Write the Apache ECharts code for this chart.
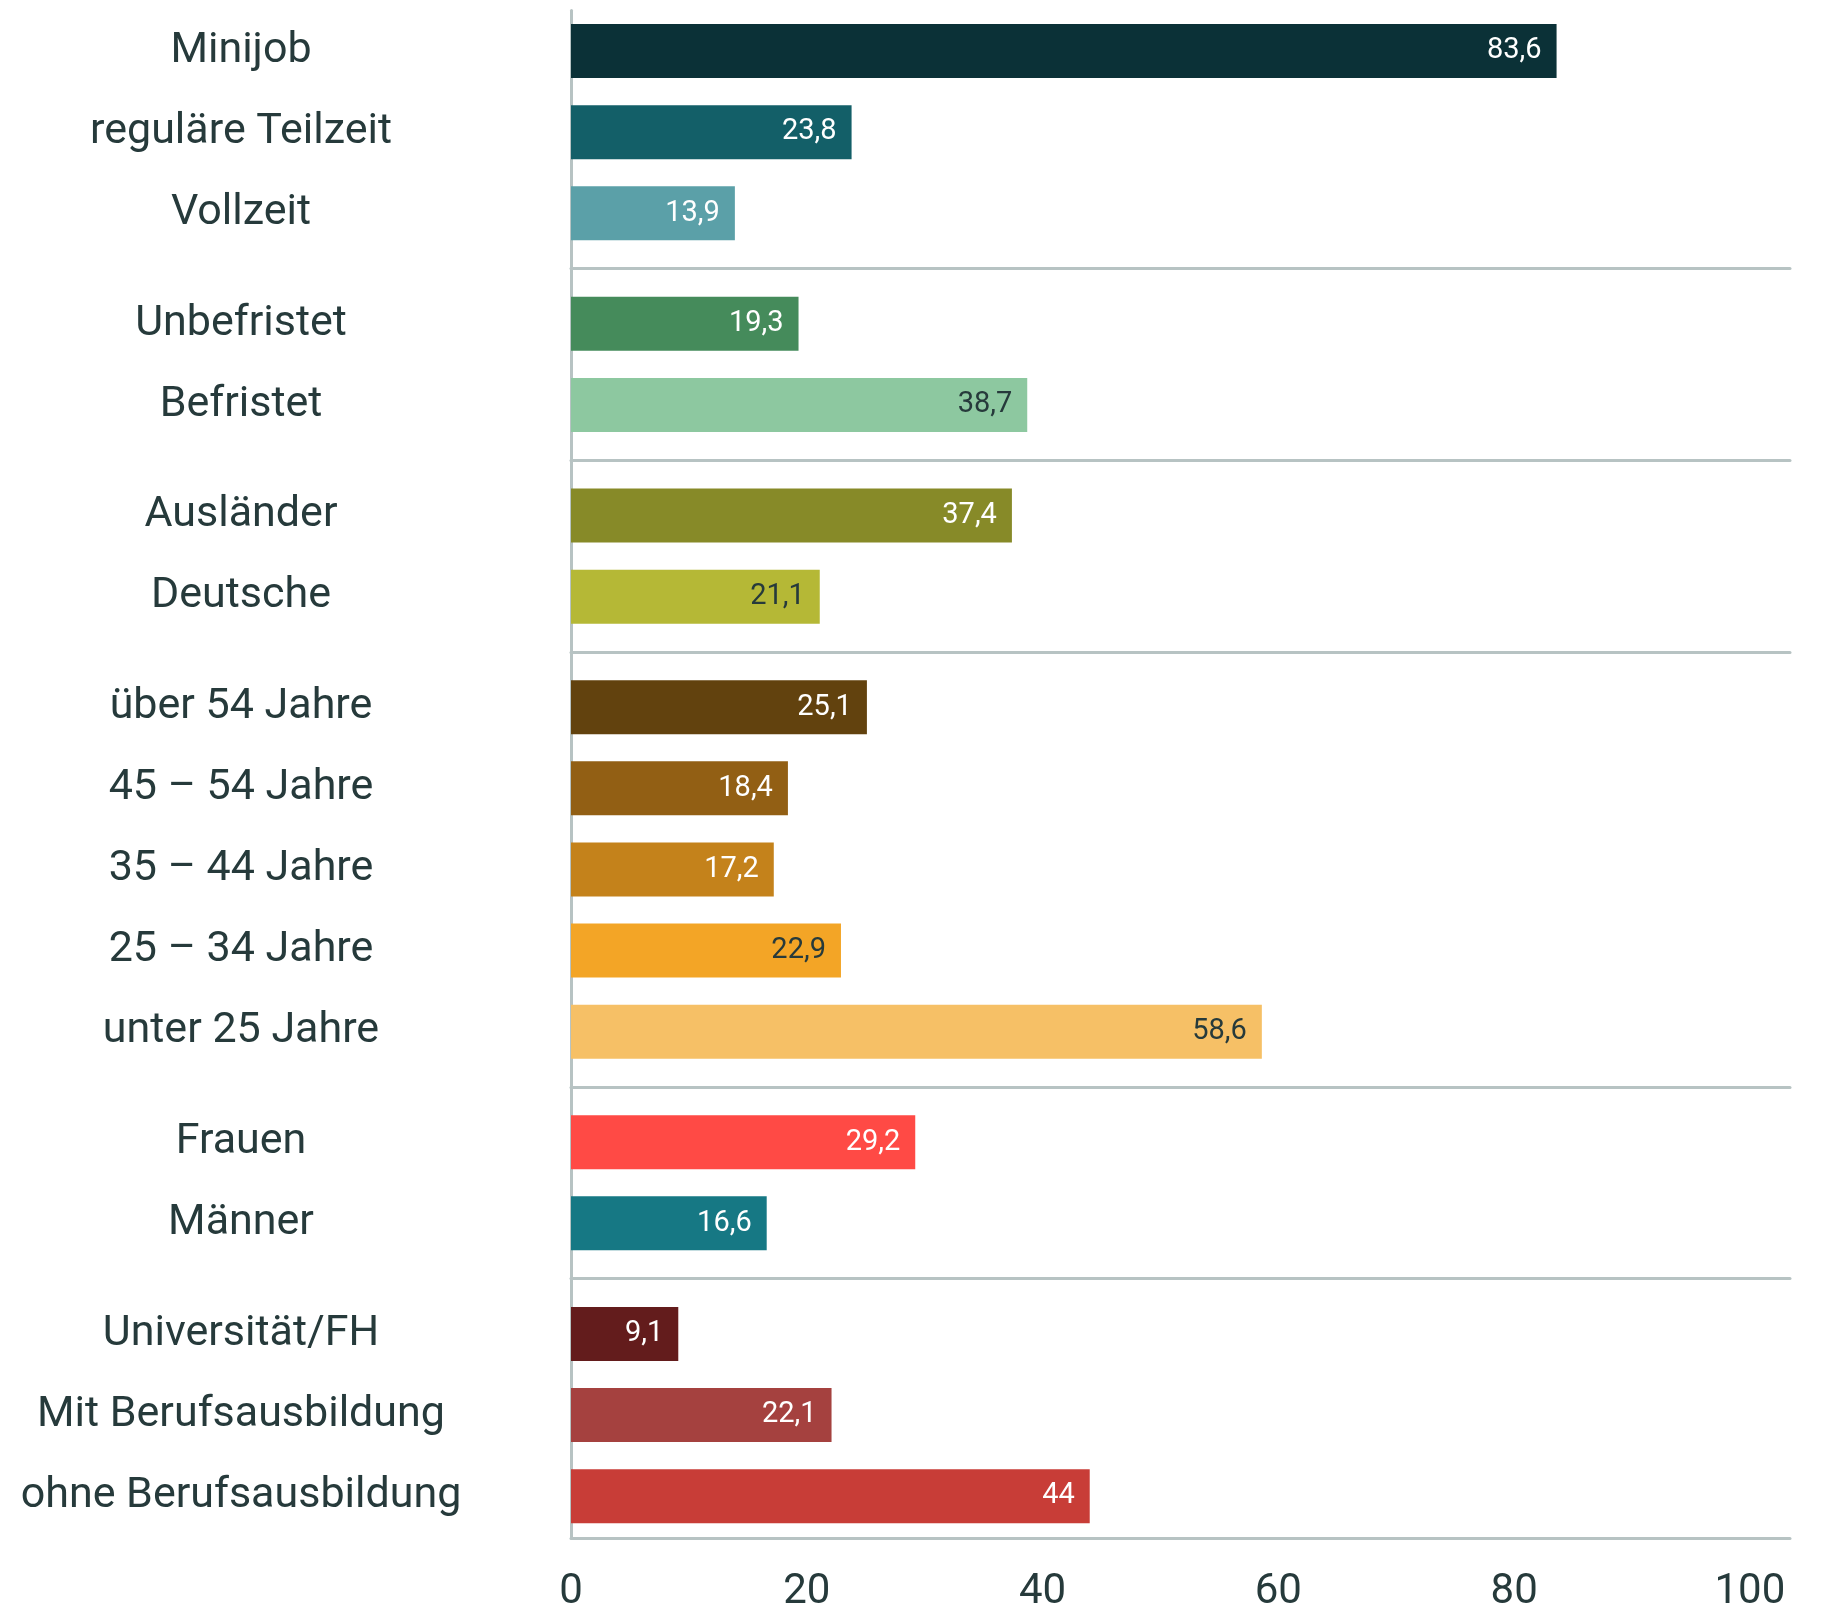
<!DOCTYPE html>
<html>
<head>
<meta charset="utf-8">
<script src="https://cdn.jsdelivr.net/npm/echarts@6/dist/echarts.min.js"></script>
<style>
  html, body { margin: 0; padding: 0; background: #fff; }
  #chart { width: 1823px; height: 1613px; }
</style>
</head>
<body>
<div id="chart"></div>
<script>
    // groups of bars, top to bottom
    const group_labels = [
        ['Minijob', 'reguläre Teilzeit', 'Vollzeit'],
        ['Unbefristet', 'Befristet'],
        ['Ausländer', 'Deutsche'],
        ['über 54 Jahre', '45 – 54 Jahre', '35 – 44 Jahre', '25 – 34 Jahre', 'unter 25 Jahre'],
        ['Frauen', 'Männer'],
        ['Universität/FH', 'Mit Berufsausbildung', 'ohne Berufsausbildung'],
    ]
    const group_values = [
        [83.6, 23.8, 13.9],
        [19.3, 38.7],
        [37.4, 21.1],
        [25.1, 18.4, 17.2, 22.9, 58.6],
        [29.2, 16.6],
        [9.1, 22.1, 44],
    ]
    const group_colors = [
        ['#0b3137', '#135f68', '#5ba0a8'],
        ['#458b5b', '#8dc8a0'],
        ['#878a28', '#b5b836'],
        ['#62420e', '#925f14', '#c4821b', '#f3a526', '#f6c066'],
        ['#ff4a45', '#167884'],
        ['#631c1c', '#a5413f', '#c83d37'],
    ]
    // bars with dark value labels
    const dark_label = ['Befristet', 'Deutsche', '25 – 34 Jahre', 'unter 25 Jahre']
    const x_ticks = [0, 20, 40, 60, 80, 100]

    const TEXT = '#263a3b'
    const LINE = '#b7c3c3'
    const FONT = 'Roboto'
    const XMAX = 103.4
    const pitch = 81.1
    const gap = 29.5
    const top0 = 10.5
    const frame_bottom = 1539.7
    const grid_left = 571
    const grid_right = 33

    const grids = []
    const xAxes = []
    const yAxes = []
    const series = []

    // frame grid: left line, bottom line and value labels
    grids.push({ left: grid_left, right: grid_right, top: top0, height: frame_bottom - top0 })
    xAxes.push({
        gridIndex: 0, type: 'value', min: 0, max: XMAX, interval: 20,
        axisLine: { show: true, lineStyle: { color: LINE, width: 3 } },
        axisTick: { show: false },
        splitLine: { show: false },
        axisLabel: {
            show: true, showMaxLabel: false, margin: 33,
            fontFamily: FONT, fontSize: 42, color: TEXT,
            formatter: (v) => x_ticks.includes(v) ? String(v) : ''
        }
    })
    yAxes.push({
        gridIndex: 0, type: 'value', min: 0, max: 1,
        axisLine: { show: true, lineStyle: { color: LINE, width: 3 } },
        axisTick: { show: false }, axisLabel: { show: false }, splitLine: { show: false }
    })

    let cur_top = top0
    group_labels.forEach((labels, g) => {
        const gi = g + 1
        const h = labels.length * pitch
        grids.push({ left: grid_left, right: grid_right, top: cur_top, height: h })
        xAxes.push({
            gridIndex: gi, type: 'value', min: 0, max: XMAX, interval: 20,
            offset: gap / 2,
            axisLine: { show: g < group_labels.length - 1, lineStyle: { color: LINE, width: 3 } },
            axisTick: { show: false }, axisLabel: { show: false }, splitLine: { show: false }
        })
        yAxes.push({
            gridIndex: gi, type: 'category', inverse: true, data: labels,
            axisLine: { show: false }, axisTick: { show: false },
            axisLabel: {
                align: 'center', margin: 330, padding: [6, 0, 0, 0],
                fontFamily: FONT, fontSize: 43, color: TEXT
            }
        })
        series.push({
            type: 'bar', xAxisIndex: gi, yAxisIndex: gi,
            barWidth: 54,
            data: group_values[g].map((v, i) => ({
                value: v,
                itemStyle: { color: group_colors[g][i] },
                label: { color: dark_label.includes(labels[i]) ? TEXT : '#ffffff' }
            })),
            label: {
                show: true, position: 'insideRight', distance: 15,
                fontFamily: FONT, fontSize: 29,
                formatter: (p) => String(p.value).replace('.', ',')
            },
            silent: true, animation: false
        })
        cur_top += h + gap
    })

    const chart = echarts.init(document.getElementById('chart'))
    chart.setOption({
        backgroundColor: '#ffffff',
        animation: false,
        grid: grids,
        xAxis: xAxes,
        yAxis: yAxes,
        series: series
    })
</script>
</body>
</html>
